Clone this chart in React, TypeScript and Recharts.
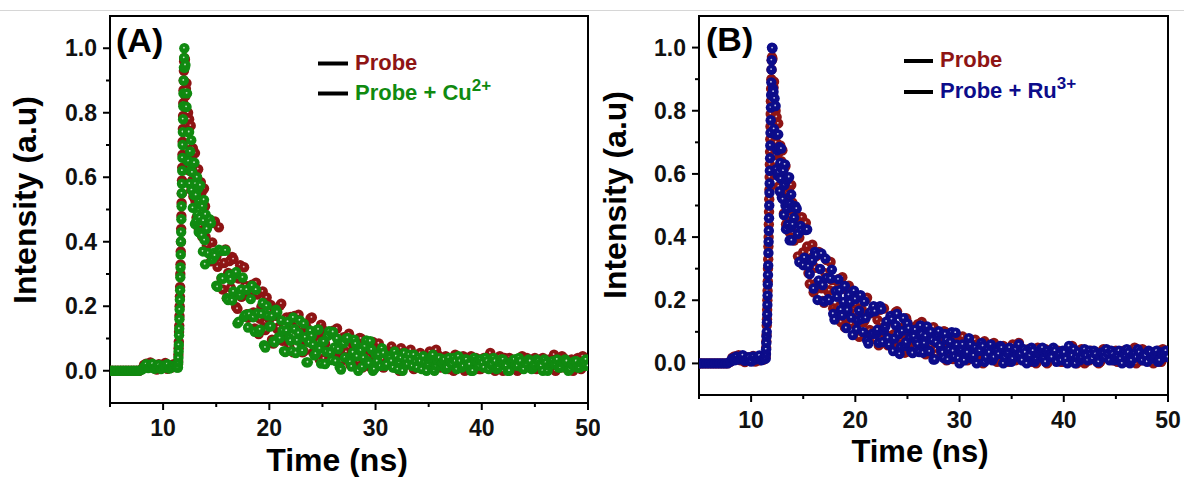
import React from 'react';
import { ScatterChart, Scatter, XAxis, YAxis, ReferenceArea } from 'recharts';

// Time axis (ns): main channels
const timeNs = [
  5.0, 5.25, 5.5, 5.75, 6.0, 6.25, 6.5, 6.75, 7.0, 7.25, 7.5, 7.75,
  8.0, 8.2, 8.4, 8.6, 8.8, 9.0, 9.2, 9.4, 9.6, 9.8, 10.0, 10.2, 10.4, 10.6, 10.8, 11.0, 11.2, 11.3,
  11.40, 11.42, 11.44, 11.46, 11.48, 11.50, 11.52, 11.54, 11.56, 11.58, 11.60, 11.62, 11.64, 11.66, 11.68,
  11.70, 11.72, 11.74, 11.76, 11.78, 11.80, 11.82, 11.84, 11.86, 11.88, 11.90, 11.92, 11.94, 11.96, 11.98, 12.00,
  12.05, 12.10, 12.15, 12.20, 12.25, 12.30, 12.35, 12.40, 12.45, 12.50, 12.55, 12.60, 12.65, 12.70, 12.75,
  12.80, 12.85, 12.90, 12.95, 13.00, 13.05, 13.10, 13.15, 13.20, 13.25, 13.30, 13.35, 13.40, 13.45, 13.50,
  13.55, 13.60, 13.65, 13.70, 13.75, 13.80, 13.85, 13.90, 13.95, 14.00,
  14.25, 14.5, 14.75, 15, 15.25, 15.5, 15.75, 16, 16.25, 16.5, 16.75, 17, 17.25, 17.5, 17.75, 18, 18.25, 18.5,
  18.75, 19, 19.25, 19.5, 19.75, 20, 20.25, 20.5, 20.75, 21, 21.25, 21.5, 21.75, 22, 22.25, 22.5, 22.75, 23,
  23.25, 23.5, 23.75, 24, 24.25, 24.5, 24.75, 25, 25.25, 25.5, 25.75, 26, 26.25, 26.5, 26.75, 27, 27.25, 27.5,
  27.75, 28, 28.25, 28.5, 28.75, 29, 29.25, 29.5, 29.75, 30,
  30.3, 30.6, 30.9, 31.2, 31.5, 31.8, 32.1, 32.4, 32.7, 33.0, 33.3, 33.6, 33.9, 34.2, 34.5, 34.8, 35.1, 35.4,
  35.7, 36.0, 36.3, 36.6, 36.9, 37.2, 37.5, 37.8, 38.1, 38.4, 38.7, 39.0, 39.3, 39.6, 39.9, 40.2, 40.5, 40.8,
  41.1, 41.4, 41.7, 42.0, 42.3, 42.6, 42.9, 43.2, 43.5, 43.8, 44.1, 44.4, 44.7, 45.0, 45.3, 45.6, 45.9, 46.2,
  46.5, 46.8, 47.1, 47.4, 47.7, 48.0, 48.3, 48.6, 48.9, 49.2, 49.5, 49.8, 50.0,
];

// Time axis (ns): interleaved channels in the decay
const timeNsMid = [
  14.125, 14.375, 14.625, 14.875, 15.125, 15.375, 15.625, 15.875, 16.125, 16.375, 16.625, 16.875, 17.125, 17.375,
  17.625, 17.875, 18.125, 18.375, 18.625, 18.875, 19.125, 19.375, 19.625, 19.875, 20.125, 20.375, 20.625, 20.875,
  21.125, 21.375, 21.625, 21.875, 22.125, 22.375, 22.625, 22.875, 23.125, 23.375, 23.625, 23.875, 24.125, 24.375,
  24.625, 24.875, 25.125, 25.375, 25.625, 25.875, 26.125, 26.375, 26.625, 26.875, 27.125, 27.375, 27.625, 27.875,
  28.125, 28.375, 28.625, 28.875, 29.125, 29.375, 29.625, 29.875,
  30.15, 30.45, 30.75, 31.05, 31.35, 31.65, 31.95, 32.25, 32.55, 32.85, 33.15, 33.45, 33.75, 34.05, 34.35, 34.65,
  34.95, 35.25, 35.55, 35.85, 36.15, 36.45, 36.75, 37.05, 37.35, 37.65, 37.95, 38.25, 38.55, 38.85, 39.15, 39.45,
  39.75, 40.05, 40.35, 40.65, 40.95, 41.25, 41.55, 41.85, 42.15, 42.45, 42.75, 43.05, 43.35, 43.65, 43.95, 44.25,
  44.55, 44.85, 45.15, 45.45, 45.75, 46.05, 46.35, 46.65, 46.95, 47.25, 47.55, 47.85, 48.15, 48.45, 48.75, 49.05,
  49.35, 49.65,
];

// Probe
const probe = [
  0, 0, 0, 0, 0, 0, 0, 0, 0, 0, 0, 0,
  0.005, 0.018, 0.022, 0.012, 0.026, 0.01, 0.015, 0.004, 0.02, 0.008, 0.018, 0.024, 0.006, 0.016, 0.01, 0.02, 0.012, 0.015,
  0.02, 0.03, 0.05, 0.07, 0.09, 0.12, 0.14, 0.17, 0.2, 0.23, 0.26, 0.3, 0.33, 0.37, 0.4,
  0.44, 0.48, 0.52, 0.55, 0.59, 0.63, 0.67, 0.71, 0.75, 0.79, 0.83, 0.87, 0.9, 0.93, 0.96, 0.97,
  0.965, 0.852, 0.874, 0.892, 0.763, 0.66, 0.8, 0.7, 0.78, 0.62, 0.68, 0.76, 0.56, 0.67, 0.59,
  0.69, 0.54, 0.64, 0.58, 0.675, 0.525, 0.585, 0.475, 0.62, 0.525, 0.625, 0.44, 0.565, 0.525, 0.45,
  0.585, 0.47, 0.555, 0.415, 0.51, 0.465, 0.565, 0.415, 0.51, 0.415,
  0.467, 0.339, 0.458, 0.352, 0.445, 0.286, 0.334, 0.225, 0.34, 0.353, 0.238, 0.192, 0.327, 0.232, 0.264, 0.164, 0.26, 0.181,
  0.273, 0.114, 0.198, 0.135, 0.227, 0.16, 0.096, 0.19, 0.129, 0.202, 0.093, 0.159, 0.099, 0.167, 0.057, 0.128, 0.174, 0.089,
  0.06, 0.135, 0.093, 0.165, 0.061, 0.111, 0.034, 0.129, 0.084, 0.113, 0.049, 0.124, 0.062, 0.081, 0.029, 0.104, 0.058, 0.115,
  0.029, 0.077, 0.04, 0.102, 0.01, 0.059, 0.074, 0.028, 0.089, 0.045,
  0.085, 0.02, 0.06, 0.035, 0.075, 0.01, 0.05, 0.07, 0.015, 0.045, 0.065, 0.005, 0.04, 0.055, 0.02, 0.035, 0.06, 0.01,
  0.065, 0.03, 0.015, 0.045, 0.005, 0.035, 0.05, 0.02, 0.04, 0.0, 0.03, 0.045, 0.015, 0.035, 0.005, 0.04, 0.025, 0.055,
  0.01, 0.03, 0.045, 0.0, 0.025, 0.04, 0.015, 0.035, 0.005, 0.045, 0.02, 0.03, 0.01, 0.04, 0.02, 0.035, 0.005, 0.03,
  0.015, 0.05, 0.025, 0.01, 0.04, 0.02, 0.03, 0.0, 0.035, 0.015, 0.045, 0.02, 0.03,
];
const probeMid = [
  0.389, 0.468, 0.398, 0.463, 0.322, 0.37, 0.252, 0.376, 0.303, 0.257, 0.346, 0.198, 0.286, 0.229,
  0.321, 0.175, 0.23, 0.267, 0.131, 0.236, 0.161, 0.246, 0.126, 0.171, 0.204, 0.084, 0.17, 0.135,
  0.208, 0.106, 0.165, 0.076, 0.138, 0.17, 0.095, 0.118, 0.057, 0.145, 0.09, 0.162, 0.056, 0.112,
  0.09, 0.143, 0.038, 0.108, 0.056, 0.114, 0.068, 0.131, 0.036, 0.078, 0.048, 0.107, 0.018, 0.081,
  0.061, 0.03, 0.1, 0.042, 0.08, 0.014, 0.06, 0.046,
  0.04, 0.065, 0.01, 0.05, 0.025, 0.06, 0.03, 0.0, 0.045, 0.055, 0.025, 0.04, 0.015, 0.05, 0.03, 0.005,
  0.045, 0.02, 0.035, 0.05, 0.01, 0.03, 0.04, 0.02, 0.0, 0.035, 0.025, 0.045, 0.01, 0.03, 0.02, 0.04,
  0.005, 0.03, 0.02, 0.045, 0.015, 0.0, 0.035, 0.025, 0.04, 0.01, 0.03, 0.02, 0.0, 0.035, 0.025, 0.04,
  0.015, 0.03, 0.005, 0.025, 0.04, 0.015, 0.035, 0.02, 0.0, 0.03, 0.045, 0.01, 0.025, 0.035, 0.015, 0.04,
  0.005, 0.03,
];

// Probe + Cu2+
const probeCu = [
  0, 0, 0, 0, 0, 0, 0, 0, 0, 0, 0, 0,
  0.004, 0.012, 0.02, 0.008, 0.015, 0.022, 0.006, 0.014, 0.018, 0.005, 0.016, 0.01, 0.02, 0.007, 0.015, 0.012, 0.018, 0.01,
  0.01, 0.025, 0.04, 0.06, 0.08, 0.11, 0.13, 0.16, 0.19, 0.22, 0.25, 0.29, 0.32, 0.36, 0.4,
  0.43, 0.47, 0.51, 0.55, 0.58, 0.62, 0.66, 0.7, 0.74, 0.78, 0.82, 0.86, 0.9, 0.94, 0.97, 1.0,
  0.94, 0.948, 0.818, 0.818, 0.86, 0.65, 0.74, 0.65, 0.74, 0.58, 0.68, 0.62, 0.715, 0.56, 0.615,
  0.505, 0.645, 0.545, 0.645, 0.455, 0.58, 0.545, 0.465, 0.6, 0.485, 0.565, 0.43, 0.525, 0.475, 0.575,
  0.425, 0.515, 0.42, 0.51, 0.37, 0.465, 0.53, 0.405, 0.33, 0.485,
  0.365, 0.458, 0.365, 0.264, 0.375, 0.288, 0.372, 0.225, 0.298, 0.218, 0.299, 0.147, 0.235, 0.289, 0.173, 0.134, 0.222, 0.166,
  0.251, 0.12, 0.177, 0.079, 0.201, 0.137, 0.17, 0.088, 0.182, 0.101, 0.125, 0.058, 0.152, 0.093, 0.165, 0.055, 0.117, 0.068,
  0.146, 0.026, 0.088, 0.108, 0.048, 0.127, 0.069, 0.09, 0.021, 0.108, 0.056, 0.12, 0.03, 0.067, 0.004, 0.085, 0.1, 0.034,
  0.013, 0.096, 0.045, 0.068, 0.012, 0.076, 0.03, 0.092, 0.0, 0.051,
  0.05, 0.07, 0.015, 0.045, 0.03, 0.06, 0.005, 0.04, 0.055, 0.02, 0.035, 0.05, 0.01, 0.03, 0.045, 0.0, 0.035, 0.05,
  0.015, 0.04, 0.025, 0.005, 0.04, 0.02, 0.03, 0.045, 0.01, 0.035, 0.02, 0.0, 0.04, 0.025, 0.035, 0.01, 0.03, 0.02,
  0.04, 0.005, 0.025, 0.035, 0.015, 0.0, 0.03, 0.02, 0.04, 0.01, 0.025, 0.035, 0.005, 0.02, 0.03, 0.015, 0.035, 0.0,
  0.025, 0.02, 0.035, 0.01, 0.025, 0.03, 0.005, 0.02, 0.03, 0.01, 0.025, 0.035, 0.015,
];
const probeCuMid = [
  0.44, 0.47, 0.346, 0.357, 0.26, 0.372, 0.285, 0.373, 0.219, 0.283, 0.246, 0.306, 0.152, 0.252,
  0.167, 0.251, 0.176, 0.264, 0.121, 0.178, 0.128, 0.21, 0.072, 0.171, 0.138, 0.091, 0.189, 0.104,
  0.156, 0.061, 0.124, 0.102, 0.061, 0.129, 0.094, 0.156, 0.062, 0.104, 0.026, 0.124, 0.081, 0.053,
  0.128, 0.022, 0.091, 0.059, 0.123, 0.033, 0.072, 0.1, 0.011, 0.086, 0.041, 0.102, 0.027, 0.057,
  0.084, 0.0, 0.063, 0.04, 0.094, 0.023, 0.066, 0.005,
  0.03, 0.015, 0.055, 0.02, 0.04, 0.01, 0.045, 0.025, 0.0, 0.035, 0.05, 0.015, 0.03, 0.04, 0.005, 0.025,
  0.02, 0.04, 0.0, 0.03, 0.015, 0.035, 0.01, 0.025, 0.04, 0.005, 0.03, 0.015, 0.035, 0.02, 0.0, 0.03,
  0.015, 0.025, 0.04, 0.005, 0.02, 0.03, 0.01, 0.035, 0.02, 0.0, 0.025, 0.035, 0.015, 0.03, 0.005, 0.02,
  0.03, 0.01, 0.035, 0.02, 0.0, 0.025, 0.015, 0.03, 0.02, 0.01, 0.025, 0.035, 0.0, 0.02, 0.03, 0.01,
  0.025, 0.015,
];

// Probe + Ru3+
const probeRu = [
  0, 0, 0, 0, 0, 0, 0, 0, 0, 0, 0, 0,
  0.006, 0.016, 0.01, 0.022, 0.012, 0.018, 0.026, 0.008, 0.015, 0.02, 0.006, 0.022, 0.012, 0.018, 0.025, 0.01, 0.014, 0.02,
  0.015, 0.03, 0.045, 0.065, 0.085, 0.1, 0.13, 0.155, 0.185, 0.215, 0.25, 0.28, 0.31, 0.35, 0.385,
  0.42, 0.46, 0.5, 0.54, 0.57, 0.61, 0.65, 0.69, 0.73, 0.77, 0.81, 0.85, 0.89, 0.93, 0.96, 1.0,
  0.998, 0.87, 0.86, 0.742, 0.839, 0.725, 0.815, 0.615, 0.725, 0.675, 0.595, 0.725, 0.605, 0.685, 0.545,
  0.635, 0.585, 0.68, 0.525, 0.615, 0.52, 0.61, 0.47, 0.565, 0.63, 0.5, 0.425, 0.58, 0.49, 0.585,
  0.44, 0.505, 0.59, 0.39, 0.505, 0.43, 0.535, 0.39, 0.495, 0.44,
  0.498, 0.41, 0.435, 0.311, 0.422, 0.308, 0.329, 0.237, 0.343, 0.263, 0.348, 0.196, 0.271, 0.201, 0.297, 0.139, 0.211, 0.232,
  0.152, 0.245, 0.169, 0.194, 0.09, 0.204, 0.136, 0.216, 0.099, 0.144, 0.063, 0.164, 0.181, 0.094, 0.065, 0.172, 0.104, 0.133,
  0.059, 0.14, 0.079, 0.157, 0.03, 0.103, 0.055, 0.126, 0.082, 0.033, 0.107, 0.061, 0.12, 0.034, 0.087, 0.041, 0.1, 0.012,
  0.067, 0.102, 0.038, 0.017, 0.075, 0.044, 0.099, 0.021, 0.059, 0.0,
  0.06, 0.03, 0.08, 0.015, 0.05, 0.04, 0.065, 0.005, 0.045, 0.06, 0.02, 0.04, 0.055, 0.0, 0.035, 0.05, 0.015, 0.045,
  0.06, 0.01, 0.035, 0.02, 0.05, 0.005, 0.03, 0.045, 0.015, 0.04, 0.025, 0.05, 0.005, 0.03, 0.04, 0.015, 0.055, 0.025,
  0.0, 0.035, 0.02, 0.045, 0.01, 0.03, 0.04, 0.005, 0.025, 0.035, 0.045, 0.01, 0.03, 0.02, 0.04, 0.0, 0.025, 0.035,
  0.01, 0.03, 0.045, 0.02, 0.03, 0.005, 0.035, 0.025, 0.04, 0.01, 0.03, 0.04, 0.02,
];
const probeRuMid = [
  0.461, 0.49, 0.321, 0.422, 0.335, 0.424, 0.283, 0.326, 0.353, 0.201, 0.299, 0.248, 0.332, 0.203,
  0.269, 0.157, 0.229, 0.266, 0.17, 0.195, 0.112, 0.217, 0.145, 0.23, 0.108, 0.167, 0.141, 0.196,
  0.073, 0.16, 0.093, 0.165, 0.107, 0.181, 0.068, 0.117, 0.081, 0.15, 0.039, 0.121, 0.093, 0.052,
  0.143, 0.067, 0.111, 0.037, 0.086, 0.071, 0.036, 0.093, 0.064, 0.117, 0.038, 0.074, 0.013, 0.088,
  0.056, 0.035, 0.093, 0.012, 0.068, 0.039, 0.097, 0.016,
  0.045, 0.01, 0.035, 0.06, 0.025, 0.0, 0.04, 0.055, 0.02, 0.035, 0.01, 0.045, 0.03, 0.05, 0.02, 0.035,
  0.005, 0.04, 0.025, 0.03, 0.045, 0.0, 0.025, 0.04, 0.015, 0.035, 0.05, 0.005, 0.03, 0.02, 0.04, 0.025,
  0.01, 0.035, 0.0, 0.03, 0.045, 0.02, 0.01, 0.035, 0.025, 0.04, 0.015, 0.03, 0.005, 0.035, 0.02, 0.03,
  0.04, 0.01, 0.025, 0.015, 0.035, 0.045, 0.0, 0.03, 0.02, 0.035, 0.01, 0.025, 0.04, 0.015, 0.03, 0.005,
  0.035, 0.02,
];

const xTicks = [5, 10, 15, 20, 25, 30, 35, 40, 45, 50];
const yTicks = [0, 0.1, 0.2, 0.3, 0.4, 0.5, 0.6, 0.7, 0.8, 0.9, 1.0];

const RED = '#8e1414';
const GREEN = '#108a10';
const BLUE = '#0c0c8a';
const FONT = '"Liberation Sans", Arial, Helvetica, sans-serif';

function toPoints(values: number[], midValues: number[]) {
  const out: { t: number; v: number }[] = [];
  const n = Math.min(values.length, timeNs.length);
  for (let i = 0; i < n; i++) out.push({ t: timeNs[i], v: values[i] });
  const m = Math.min(midValues.length, timeNsMid.length);
  for (let i = 0; i < m; i++) out.push({ t: timeNsMid[i], v: midValues[i] });
  out.sort((a, b) => a.t - b.t);
  return out;
}

const XTick = (props: any) => {
  const { x, y, payload } = props;
  const v = payload.value;
  const major = v % 10 === 0;
  return (
    <g>
      <line x1={x} x2={x} y1={y} y2={y + (major ? 7 : 4)} stroke="#000" strokeWidth={2} />
      {major && (
        <text x={x} y={y + 33} textAnchor="middle" fontFamily={FONT} fontWeight="bold" fontSize={23} fill="#111">
          {v}
        </text>
      )}
    </g>
  );
};

const YTick = (props: any) => {
  const { x, y, payload } = props;
  const v = payload.value;
  const major = Math.round(v * 10) % 2 === 0;
  return (
    <g>
      <line x1={x} x2={x - (major ? 7 : 4)} y1={y} y2={y} stroke="#000" strokeWidth={2} />
      {major && (
        <text x={x - 13} y={y + 8} textAnchor="end" fontFamily={FONT} fontWeight="bold" fontSize={23} fill="#111">
          {v.toFixed(1)}
        </text>
      )}
    </g>
  );
};

const makeMarker = (color: string) => (props: any) => {
  const { cx, cy } = props;
  if (cx == null || cy == null) return <g />;
  return (
    <g>
      <circle cx={cx} cy={cy} r={5.2} fill={color} />
      <circle cx={cx - 0.4} cy={cy - 0.6} r={0.9} fill="#ffffff" fillOpacity={0.75} />
    </g>
  );
};

type Series = { name: string; values: number[]; mid: number[]; color: string };

function Panel(props: {
  width: number;
  height: number;
  top: number;
  right: number;
  yAxisWidth: number;
  xAxisHeight: number;
  series: Series[];
}) {
  const { width, height, top, right, yAxisWidth, xAxisHeight, series } = props;
  return (
    <ScatterChart width={width} height={height} margin={{ top, right, bottom: 0, left: 0 }}>
      <XAxis
        type="number"
        dataKey="t"
        domain={[5, 50]}
        ticks={xTicks}
        interval={0}
        allowDataOverflow
        tickSize={0}
        tickMargin={0}
        tickLine={false}
        tick={XTick}
        axisLine={{ stroke: '#000', strokeWidth: 2 }}
        height={xAxisHeight}
      />
      <YAxis
        type="number"
        dataKey="v"
        domain={[-0.1, 1.1]}
        ticks={yTicks}
        interval={0}
        allowDataOverflow
        tickSize={0}
        tickMargin={0}
        tickLine={false}
        tick={YTick}
        axisLine={{ stroke: '#000', strokeWidth: 2 }}
        width={yAxisWidth}
      />
      <ReferenceArea x1={5} x2={50} y1={-0.1} y2={1.1} fill="none" stroke="#000" strokeWidth={2} ifOverflow="visible" />
      {series.map((s) => (
        <Scatter
          key={s.name}
          name={s.name}
          data={toPoints(s.values, s.mid)}
          fill={s.color}
          shape={makeMarker(s.color)}
          isAnimationActive={false}
        />
      ))}
    </ScatterChart>
  );
}

const txt = { fontFamily: FONT, fontWeight: 'bold' as const };

export default function App() {
  return (
    <div style={{ position: 'absolute', left: 0, top: 0, width: 1184, height: 477, background: '#fff' }}>
      <div style={{ position: 'absolute', left: 0, top: 0 }}>
        <Panel
          width={600}
          height={477}
          top={16}
          right={12}
          yAxisWidth={110}
          xAxisHeight={74}
          series={[
            { name: 'Probe', values: probe, mid: probeMid, color: RED },
            { name: 'Probe + Cu2+', values: probeCu, mid: probeCuMid, color: GREEN },
          ]}
        />
      </div>
      <div style={{ position: 'absolute', left: 600, top: 0 }}>
        <Panel
          width={584}
          height={477}
          top={16}
          right={16}
          yAxisWidth={99}
          xAxisHeight={82}
          series={[
            { name: 'Probe', values: probe, mid: probeMid, color: RED },
            { name: 'Probe + Ru3+', values: probeRu, mid: probeRuMid, color: BLUE },
          ]}
        />
      </div>
      <svg
        width={1184}
        height={477}
        style={{ position: 'absolute', left: 0, top: 0, pointerEvents: 'none' }}
      >
        <line x1={0} x2={1184} y1={10.5} y2={10.5} stroke="#d6d6d6" strokeWidth={1} />

        {/* Panel A */}
        <text x={116} y={52} fontSize={34} fill="#000" {...txt}>(A)</text>
        <line x1={318} x2={348} y1={63.5} y2={63.5} stroke="#000" strokeWidth={4} />
        <text x={355} y={70} fontSize={22} fill={RED} {...txt}>Probe</text>
        <line x1={318} x2={348} y1={93.5} y2={93.5} stroke="#000" strokeWidth={4} />
        <text x={355} y={100} fontSize={22} fill={GREEN} {...txt}>
          Probe + Cu<tspan dy={-9} fontSize={17}>2+</tspan>
        </text>
        <text transform="translate(36,200) rotate(-90)" textAnchor="middle" fontSize={32} fill="#000" {...txt}>
          Intensity (a.u)
        </text>
        <text x={337} y={471} textAnchor="middle" fontSize={32} fill="#000" {...txt}>Time (ns)</text>

        {/* Panel B */}
        <text x={706} y={51} fontSize={34} fill="#000" {...txt}>(B)</text>
        <line x1={904} x2={933} y1={61} y2={61} stroke="#000" strokeWidth={4} />
        <text x={940} y={67} fontSize={22} fill={RED} {...txt}>Probe</text>
        <line x1={904} x2={933} y1={92} y2={92} stroke="#000" strokeWidth={4} />
        <text x={940} y={98} fontSize={22} fill={BLUE} {...txt}>
          Probe + Ru<tspan dy={-9} fontSize={17}>3+</tspan>
        </text>
        <text transform="translate(626,195) rotate(-90)" textAnchor="middle" fontSize={32} fill="#000" {...txt}>
          Intensity (a.u)
        </text>
        <text x={920} y={462} textAnchor="middle" fontSize={31} fill="#000" {...txt}>Time (ns)</text>
      </svg>
    </div>
  );
}
